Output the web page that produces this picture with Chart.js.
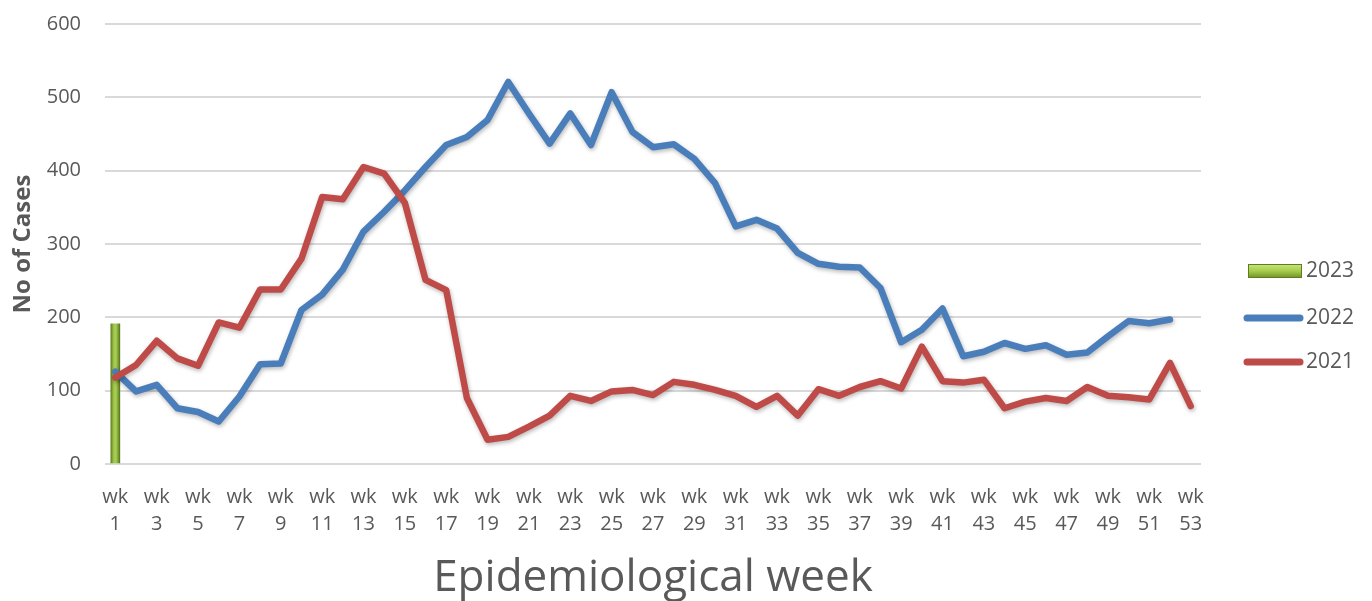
<!DOCTYPE html>
<html>
<head>
<meta charset="utf-8">
<script src="https://cdn.jsdelivr.net/npm/chart.js@4/dist/chart.umd.min.js"></script>
<style>
  html, body { margin: 0; padding: 0; background: #ffffff; }
  #wrap { width: 1372px; height: 601px; position: relative; }
</style>
</head>
<body>
<div id="wrap"><canvas id="c" width="1372" height="601"></canvas></div>
<script>
// ---- Data ----
const weeks = Array.from({length: 53}, (_, i) => i + 1);
const weekLabels = weeks.map(w => ['wk', String(w)]);
const yTickValues = [0, 100, 200, 300, 400, 500, 600];

const cases2023 = [191];

const cases2022 = [126, 99, 108, 76, 71, 58, 92, 136, 137, 210,
                   231, 265, 317, 344, 373, 405, 435, 446, 469, 521,
                   478, 437, 478, 435, 507, 453, 432, 436, 416, 383,
                   324, 333, 321, 288, 273, 269, 268, 240, 166, 183,
                   212, 147, 153, 165, 157, 162, 149, 152, 174, 195,
                   192, 197, null];

const cases2021 = [118, 135, 168, 144, 134, 193, 186, 238, 238, 280,
                   364, 361, 405, 396, 356, 251, 237, 90, 33, 37,
                   51, 66, 93, 86, 99, 101, 94, 112, 108, 101,
                   93, 78, 93, 66, 102, 93, 105, 113, 103, 160,
                   113, 111, 115, 76, 85, 90, 86, 105, 93, 91,
                   88, 138, 79];

const seriesNames = ['2023', '2022', '2021'];

const TEXT = '#595959';
const BLUE = '#4a7ebb';
const RED = '#be4b48';
const GRID = '#d9d9d9';

function greenGradient(ctx, x0, x1) {
  const g = ctx.createLinearGradient(x0, 0, x1, 0);
  g.addColorStop(0, '#5e7d1f');
  g.addColorStop(0.3, '#9cc348');
  g.addColorStop(0.55, '#a9cf55');
  g.addColorStop(0.8, '#7fa337');
  g.addColorStop(1, '#56741b');
  return g;
}

const shadowPlugin = {
  id: 'lineShadow',
  beforeDatasetDraw(chart, args) {
    const ds = chart.data.datasets[args.index];
    if (ds.type === 'line') {
      const ctx = chart.ctx;
      ctx.save();
      ctx.shadowColor = 'rgba(0,0,0,0.28)';
      ctx.shadowBlur = 4;
      ctx.shadowOffsetX = 1;
      ctx.shadowOffsetY = 2;
    }
  },
  afterDatasetDraw(chart, args) {
    const ds = chart.data.datasets[args.index];
    if (ds.type === 'line') chart.ctx.restore();
  }
};

const legendPlugin = {
  id: 'customLegend',
  afterDraw(chart) {
    const ctx = chart.ctx;
    ctx.save();
    ctx.font = '21px "Open Sans"';
    ctx.fillStyle = TEXT;
    ctx.textBaseline = 'middle';
    ctx.textAlign = 'left';
    // 2023 (bar swatch)
    const gx0 = 1248, gx1 = 1302;
    const g = ctx.createLinearGradient(0, 264, 0, 278);
    g.addColorStop(0, '#c9e57e');
    g.addColorStop(0.5, '#a6cc4c');
    g.addColorStop(1, '#6f9028');
    ctx.fillStyle = g;
    ctx.fillRect(gx0, 264, gx1 - gx0, 14);
    ctx.strokeStyle = '#5e7d1f';
    ctx.lineWidth = 1;
    ctx.strokeRect(gx0 + 0.5, 264.5, gx1 - gx0 - 1, 13);
    ctx.fillStyle = TEXT;
    ctx.fillText(chart.data.datasets[0].label, 1306, 271);
    // line swatches
    const items = [[1, BLUE, 318], [2, RED, 362]];
    items.forEach(([i, col, y]) => {
      ctx.strokeStyle = col;
      ctx.lineWidth = 7;
      ctx.lineCap = 'round';
      ctx.beginPath();
      ctx.moveTo(1247, y);
      ctx.lineTo(1300, y);
      ctx.stroke();
      ctx.fillStyle = TEXT;
      ctx.fillText(chart.data.datasets[i].label, 1306, y);
    });
    ctx.restore();
  }
};

const ctx = document.getElementById('c').getContext('2d');
new Chart(ctx, {
  data: {
    labels: weekLabels,
    datasets: [
      {
        type: 'bar',
        label: seriesNames[0],
        data: cases2023,
        order: 3,
        barThickness: 9,
        borderWidth: 0,
        backgroundColor: (c) => {
          const ch = c.chart;
          const xs = ch.scales && ch.scales.x;
          if (!ch.chartArea || !xs) return '#8db343';
          const px = xs.getPixelForValue(c.dataIndex);
          return greenGradient(ch.ctx, px - 4.5, px + 4.5);
        }
      },
      {
        type: 'line',
        label: seriesNames[1],
        data: cases2022,
        order: 2,
        borderColor: BLUE,
        backgroundColor: BLUE,
        borderWidth: 6.5,
        pointRadius: 0,
        borderJoinStyle: 'round',
        borderCapStyle: 'round',
        tension: 0,
        spanGaps: false
      },
      {
        type: 'line',
        label: seriesNames[2],
        data: cases2021,
        order: 1,
        borderColor: RED,
        backgroundColor: RED,
        borderWidth: 6.5,
        pointRadius: 0,
        borderJoinStyle: 'round',
        borderCapStyle: 'round',
        tension: 0
      }
    ]
  },
  options: {
    responsive: false,
    animation: false,
    devicePixelRatio: 1,
    layout: { padding: { top: 24, right: 171, left: 0, bottom: 0 } },
    plugins: {
      legend: { display: false },
      tooltip: { enabled: false },
      title: { display: false }
    },
    scales: {
      x: {
        type: 'category',
        offset: true,
        grid: { display: false, drawTicks: false },
        border: { display: false },
        ticks: {
          autoSkip: false,
          maxRotation: 0,
          minRotation: 0,
          padding: 20,
          color: TEXT,
          font: { family: '"Open Sans"', size: 20, lineHeight: 1.35 },
          callback: function (value, index) {
            return index % 2 === 0 ? weekLabels[index] : '';
          }
        },
        title: {
          display: true,
          text: 'Epidemiological week',
          color: TEXT,
          font: { family: '"Open Sans"', size: 44, lineHeight: 1.2 },
          padding: { top: 0, bottom: -4 }
        },
        afterFit: (axis) => { axis.height = 137; }
      },
      y: {
        min: 0,
        max: 600,
        afterBuildTicks: (axis) => { axis.ticks = yTickValues.map(v => ({ value: v })); },
        grid: { color: GRID, lineWidth: 2, drawTicks: false },
        border: { display: false },
        ticks: {
          padding: 24,
          color: TEXT,
          font: { family: '"Open Sans"', size: 20 }
        },
        title: {
          display: true,
          text: 'No of Cases',
          color: TEXT,
          font: { family: '"Open Sans"', size: 24, weight: 'bold', lineHeight: 1.2 },
          padding: { top: 9, bottom: 0 }
        },
        afterFit: (axis) => {
          axis.width = 105;
          axis.paddingTop = 0;
          axis.paddingBottom = 0;
        }
      }
    }
  },
  plugins: [shadowPlugin, legendPlugin]
});
</script>
</body>
</html>
